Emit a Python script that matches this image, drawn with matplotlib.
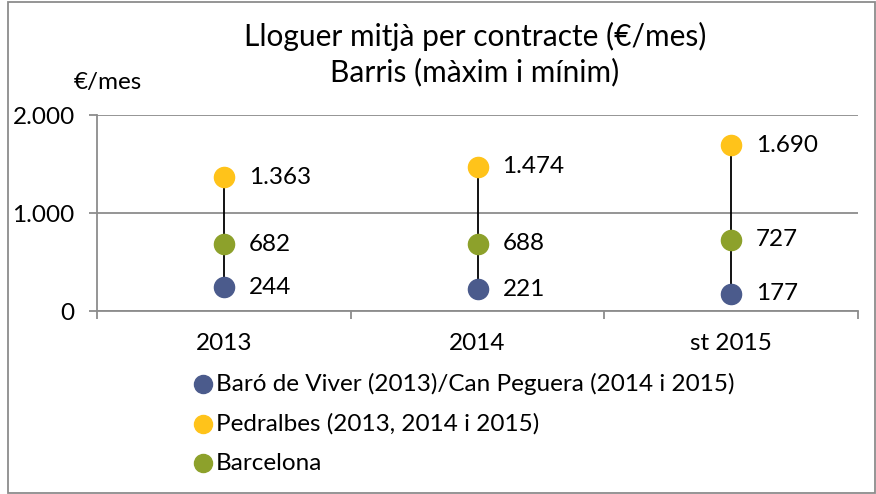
import matplotlib.pyplot as plt
from matplotlib.patches import Rectangle

plt.rcParams['font.family'] = ['Lato', 'DejaVu Sans']

years = ['2013', '2014', 'st 2015']
min_barri = [244, 221, 177]
max_barri = [1363, 1474, 1690]
bcn = [682, 688, 727]
labels = ['Baró de Viver (2013)/Can Peguera (2014 i 2015)',
          'Pedralbes (2013, 2014 i 2015)',
          'Barcelona']

c_blue = '#4B5B8C'
c_yellow = '#FFC31A'
c_green = '#8DA12B'
grid_c = '#8C8C8C'

def fmt(v):
    return f'{v:,}'.replace(',', '.')

fig = plt.figure(figsize=(8.76, 4.94), dpi=100)
ax = fig.add_axes([97/876, 1-311/494, (858-97)/876, (311-115)/494])

x = list(range(len(years)))
ax.vlines(x, min_barri, max_barri, color='black', lw=1.3, zorder=2)
series = [(min_barri, c_blue), (max_barri, c_yellow), (bcn, c_green)]
for vals, col in series:
    ax.plot(x, vals, 'o', ls='none', color=col, ms=14.5, zorder=3)
    for xi, v in zip(x, vals):
        ax.annotate(fmt(v), (xi, v), xytext=(18, 0), textcoords='offset points',
                    va='center', ha='left', fontsize=17.5)

ax.set_xlim(-0.5, 2.5)
ax.set_ylim(0, 2000)
ax.set_yticks([0, 1000, 2000])
ax.set_yticklabels([fmt(v) for v in [0, 1000, 2000]], fontsize=17.5)
ax.set_xticks(x)
ax.set_xticklabels(years, fontsize=17.5)
ax.set_xticks([-0.5, 0.5, 1.5, 2.5], minor=True)
ax.tick_params(axis='x', which='major', length=0, pad=16)
ax.tick_params(axis='x', which='minor', length=6, color=grid_c, width=1.3)
ax.tick_params(axis='y', length=6, color=grid_c, width=1.3, pad=10)
ax.yaxis.grid(True, color=grid_c, lw=1.3)
ax.set_axisbelow(True)
for s in ['top', 'right']:
    ax.spines[s].set_visible(False)
for s in ['left', 'bottom']:
    ax.spines[s].set_color(grid_c)
    ax.spines[s].set_linewidth(1.3)

fig.text(475/876, 1-36/494, 'Lloguer mitjà per contracte (€/mes)', ha='center', va='center', fontsize=21.5)
fig.text(475/876, 1-72/494, 'Barris (màxim i mínim)', ha='center', va='center', fontsize=21.5)
fig.text(108/876, 1-82/494, '€/mes', ha='center', va='center', fontsize=17.5)

# legend
for i, ((vals, col), lab) in enumerate(zip(series, labels)):
    yy = 1 - (384 + 39.5*i)/494
    fig.lines.append(plt.Line2D([203/876], [yy], marker='o', ms=13, color=col,
                                ls='none', transform=fig.transFigure))
    fig.text(216/876, yy, lab, ha='left', va='center', fontsize=17.5)

fig.patches.append(Rectangle((8/876, 1/494), 867/876, 491/494, fill=False,
                             ec=grid_c, lw=1.3, transform=fig.transFigure))

fig.savefig('out.png', dpi=100)
